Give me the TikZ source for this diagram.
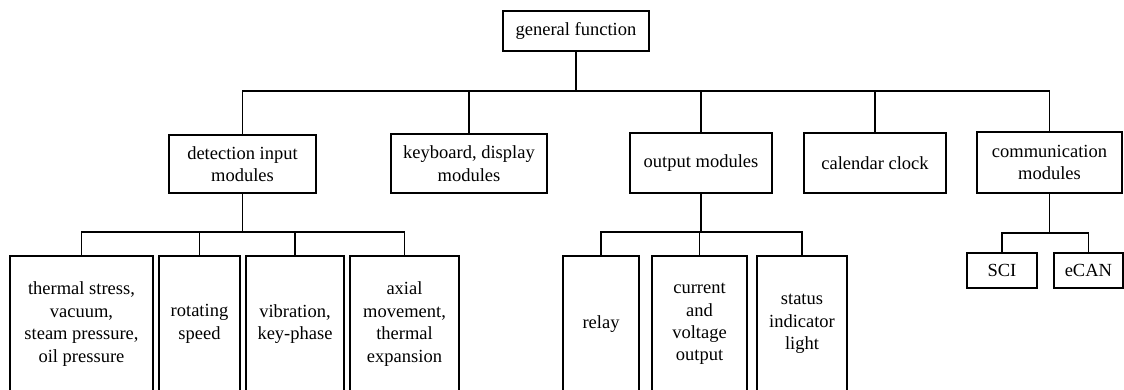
\documentclass[tikz,border=0pt]{standalone}
\usepackage{fontspec}
\setmainfont{Liberation Serif}
\begin{document}
\begin{tikzpicture}[x=1pt,y=-1pt,
  box/.style={draw, line width=1.5pt, align=center, inner sep=0pt,
    font=\fontsize{18.5}{22.4}\selectfont},
  wire/.style={line width=1.5pt}]
\useasboundingbox (0,0) rectangle (1124,390);

% root
\node[box, minimum width=146pt, minimum height=40pt] (gf) at (576,31) {general function};

% second level
\node[box, minimum width=147pt, minimum height=58pt] (det) at (242.5,164) {detection input\\modules};
\node[box, minimum width=156pt, minimum height=59pt] (key) at (469,163.5) {keyboard, display\\modules};
\node[box, minimum width=142pt, minimum height=60pt] (out) at (701,163) {output modules};
\node[box, minimum width=142pt, minimum height=60pt] (cal) at (875,163) {calendar clock};
\node[box, minimum width=145pt, minimum height=61pt] (com) at (1049.5,162.5) {communication\\modules};

% detection inputs
\node[box, minimum width=143pt, minimum height=136pt] (d1) at (81.5,324) {thermal stress,\\vacuum,\\steam pressure,\\oil pressure};
\node[box, minimum width=81pt, minimum height=136pt] (d2) at (199.5,324) {rotating\\speed};
\node[box, minimum width=98pt, minimum height=136pt] (d3) at (295,324) {vibration,\\key-phase};
\node[box, minimum width=109pt, minimum height=136pt] (d4) at (404.5,324) {axial\\movement,\\thermal\\expansion};

% outputs
\node[box, minimum width=76pt, minimum height=136pt] (o1) at (601,324) {relay};
\node[box, minimum width=95pt, minimum height=136pt] (o2) at (699.5,324) {current\\and\\voltage\\output};
\node[box, minimum width=90pt, minimum height=136pt] (o3) at (802,324) {status\\indicator\\light};

% communication
\node[box, minimum width=70pt, minimum height=35pt] (c1) at (1002,270.5) {SCI};
\node[box, minimum width=69pt, minimum height=35pt] (c2) at (1088.4,270.5) {eCAN};

% tree connectors
\foreach \c in {det,key,out,cal,com}
  \draw[wire] (gf.south) -- (gf.south |- 0,91) -| (\c.north);
\foreach \c in {d1,d2,d3,d4}
  \draw[wire] (det.south) -- (det.south |- 0,232) -| (\c.north);
\foreach \c in {o1,o2,o3}
  \draw[wire] (out.south) -- (out.south |- 0,232) -| (\c.north);
\foreach \c in {c1,c2}
  \draw[wire] (com.south) -- (com.south |- 0,233) -| (\c.north);
\end{tikzpicture}
\end{document}
